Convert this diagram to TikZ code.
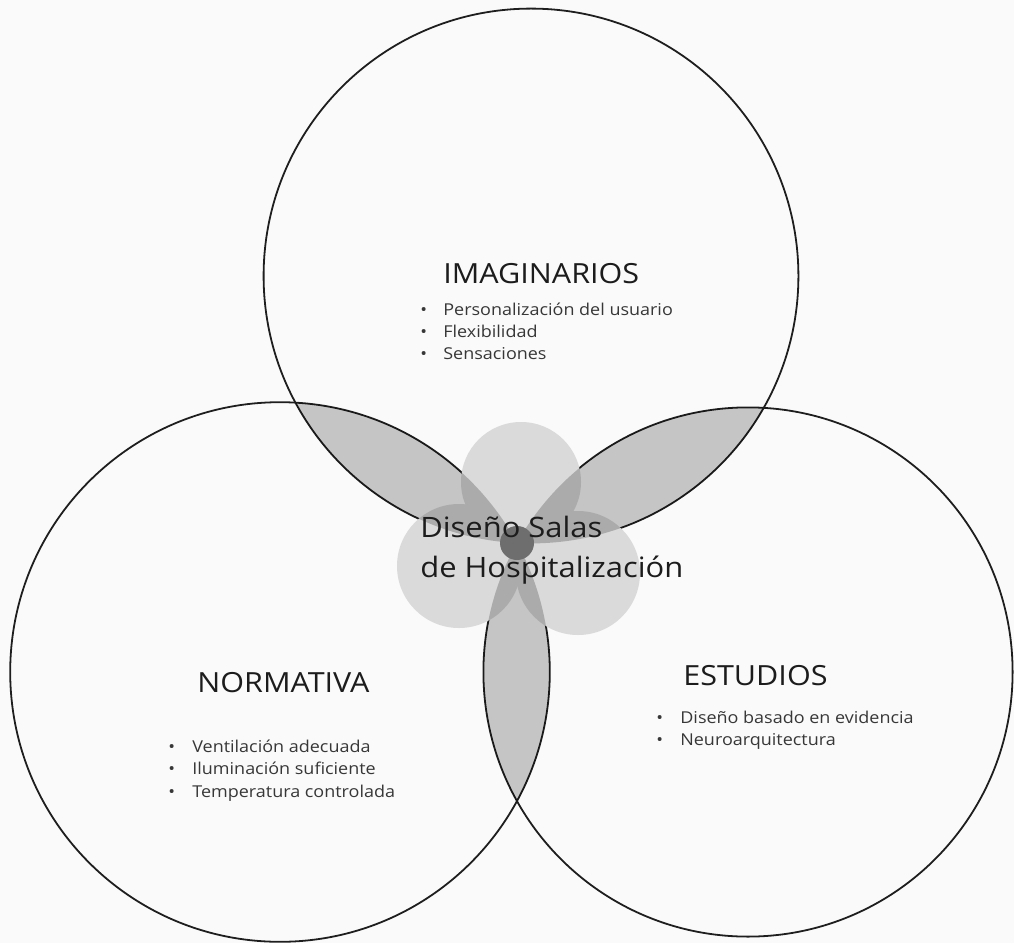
\documentclass[tikz,border=0pt]{standalone}
\usepackage{fontspec}
\setmainfont{Open Sans}[FakeStretch=1.1]
\definecolor{bg}{RGB}{250,250,250}
\definecolor{petal}{RGB}{218,218,218}
\definecolor{core}{RGB}{110,110,110}
\definecolor{head}{RGB}{28,28,28}
\definecolor{item}{RGB}{55,55,55}
\tikzset{
  ring/.style={draw={rgb,255:red,30;green,30;blue,30}, line width=1.8pt*0.5669},
  heading/.style={anchor=base west, inner sep=0pt, text=head, font=\fontsize{15.8}{18}\selectfont},
  listitem/.style={anchor=base west, inner sep=0pt, text=item, font=\fontsize{9.3}{11}\selectfont},
  bul/.style={anchor=base west, inner sep=0pt, text=item, font=\fontsize{9.3}{11}\selectfont},
  centertext/.style={anchor=base west, inner sep=0pt, text=head, font=\fontsize{16}{18}\selectfont},
}
\begin{document}
\begin{tikzpicture}[x=0.02cm, y=-0.02cm]
\fill[bg] (0,0) rectangle (1014,943);
\useasboundingbox (0,0) rectangle (1014,943);
% centres
\coordinate (P) at (517,543);
\coordinate (CT) at (531,276);
\coordinate (CL) at (280,672);
\coordinate (CR) at (748,672);
\def\rT{267.4}
\def\rL{269.8}
\def\rR{264.6}
% outlines
\draw[ring] (CT) circle (\rT);
\draw[ring] (CL) circle (\rL);
\draw[ring] (CR) circle (\rR);
% petals
\fill[petal] (521,482) circle (60);
\fill[petal] (459,566) circle (62);
\fill[petal] (578,573) circle (62);
% lenses
\begin{scope}
  \clip (CT) circle (\rT);
  \fill[black, opacity=0.21] (CL) circle (\rL);
\end{scope}
\begin{scope}
  \clip (CT) circle (\rT);
  \fill[black, opacity=0.21] (CR) circle (\rR);
\end{scope}
\begin{scope}
  \clip (CL) circle (\rL);
  \fill[black, opacity=0.21] (CR) circle (\rR);
\end{scope}
% core
\fill[core] (P) circle (17);
% centre text
\node[centertext] (c1) at (420,537) {Diseño Salas};
\node[centertext] (c2) at (420,577) {de Hospitalización};
% IMAGINARIOS
\node[heading] (h1) at (443,283) {IMAGINARIOS};
\node[bul] (b11) at (420,315) {•};
\node[listitem] (t11) at (443,315) {Personalización del usuario};
\node[bul] (b12) at (420,337) {•};
\node[listitem] (t12) at (443,337) {Flexibilidad};
\node[bul] (b13) at (420,359) {•};
\node[listitem] (t13) at (443,359) {Sensaciones};
% NORMATIVA
\node[heading] (h2) at (197,692) {NORMATIVA};
\node[bul] (b21) at (168,752) {•};
\node[listitem] (t21) at (192,752) {Ventilación adecuada};
\node[bul] (b22) at (168,774) {•};
\node[listitem] (t22) at (192,774) {Iluminación suficiente};
\node[bul] (b23) at (168,797) {•};
\node[listitem] (t23) at (192,797) {Temperatura controlada};
% ESTUDIOS
\node[heading] (h3) at (683,685) {ESTUDIOS};
\node[bul] (b31) at (656,723) {•};
\node[listitem] (t31) at (680,723) {Diseño basado en evidencia};
\node[bul] (b32) at (656,745) {•};
\node[listitem] (t32) at (680,745) {Neuroarquitectura};
\end{tikzpicture}
\end{document}
